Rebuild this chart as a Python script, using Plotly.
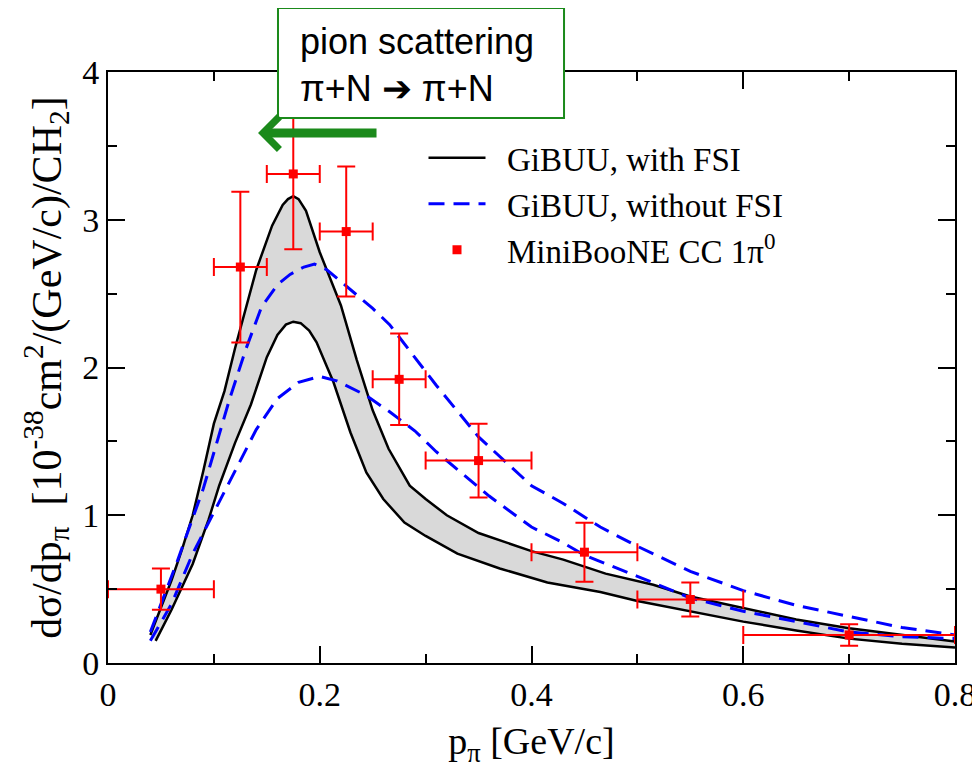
import plotly.graph_objects as go

# GiBUU with FSI: band edges
fsi_upper_x = [0.04, 0.05, 0.06, 0.07, 0.08, 0.09, 0.10, 0.11, 0.12, 0.14, 0.155, 0.165, 0.17,
               0.175, 0.18, 0.187, 0.20, 0.22, 0.235, 0.25, 0.265, 0.285, 0.30, 0.32, 0.35, 0.40,
               0.43, 0.47, 0.515, 0.55, 0.60, 0.65, 0.70, 0.75, 0.80]
fsi_upper_y = [0.19, 0.37, 0.56, 0.77, 1.00, 1.30, 1.62, 1.84, 2.13, 2.66, 2.96, 3.10, 3.14,
               3.16, 3.14, 3.06, 2.78, 2.42, 2.05, 1.71, 1.45, 1.20, 1.11, 1.00, 0.88, 0.757,
               0.70, 0.605, 0.53, 0.45, 0.37, 0.295, 0.235, 0.19, 0.145]
fsi_lower_x = [0.045, 0.06, 0.08, 0.095, 0.105, 0.12, 0.135, 0.15, 0.16, 0.168, 0.175, 0.182,
               0.19, 0.197, 0.213, 0.229, 0.244, 0.26, 0.28, 0.30, 0.33, 0.37, 0.415, 0.465,
               0.50, 0.55, 0.60, 0.65, 0.70, 0.75, 0.80]
fsi_lower_y = [0.15, 0.36, 0.67, 0.97, 1.20, 1.49, 1.75, 2.07, 2.22, 2.29, 2.31, 2.30,
               2.25, 2.17, 1.90, 1.56, 1.29, 1.11, 0.95, 0.86, 0.74, 0.64, 0.545, 0.48,
               0.42, 0.35, 0.28, 0.22, 0.165, 0.13, 0.105]

# GiBUU without FSI
nofsi_upper_x = [0.04, 0.065, 0.09, 0.115, 0.13, 0.145, 0.16, 0.172, 0.185, 0.195, 0.207, 0.22,
                 0.235, 0.25, 0.266, 0.29, 0.31, 0.35, 0.40, 0.43, 0.465, 0.50, 0.55, 0.60,
                 0.65, 0.70, 0.75, 0.80]
nofsi_upper_y = [0.21, 0.68, 1.18, 1.79, 2.12, 2.41, 2.56, 2.63, 2.68, 2.70, 2.66, 2.58,
                 2.49, 2.40, 2.29, 2.07, 1.88, 1.53, 1.20, 1.08, 0.92, 0.79, 0.62, 0.49,
                 0.39, 0.315, 0.24, 0.19]
nofsi_lower_x = [0.04, 0.06, 0.08, 0.10, 0.12, 0.14, 0.16, 0.18, 0.20, 0.216, 0.244, 0.266,
                 0.29, 0.31, 0.36, 0.40, 0.427, 0.45, 0.50, 0.55, 0.60, 0.65, 0.70, 0.75, 0.80]
nofsi_lower_y = [0.15, 0.40, 0.74, 1.02, 1.30, 1.58, 1.79, 1.90, 1.94, 1.91, 1.81, 1.70,
                 1.57, 1.43, 1.13, 0.92, 0.825, 0.73, 0.587, 0.44, 0.35, 0.28, 0.21, 0.178, 0.165]

# MiniBooNE CC 1pi0 data
data_x = [0.05, 0.125, 0.175, 0.225, 0.275, 0.35, 0.45, 0.55, 0.70]
data_y = [0.50, 2.68, 3.31, 2.92, 1.92, 1.37, 0.75, 0.43, 0.19]
data_xerr = [0.05, 0.025, 0.025, 0.025, 0.025, 0.05, 0.05, 0.05, 0.10]
data_yerr = [0.14, 0.51, 0.51, 0.44, 0.31, 0.25, 0.20, 0.115, 0.073]

serif = "Liberation Serif"
green = "#1b8a1b"
dash = "16px,9px"
pad = "\u00a0\u00a0"  # gap between legend sample and label

fig = go.Figure()

# grey band between the two FSI curves
fig.add_trace(go.Scatter(
    x=fsi_upper_x + fsi_lower_x[::-1], y=fsi_upper_y + fsi_lower_y[::-1],
    fill="toself", fillcolor="#d9d9d9", mode="lines", line=dict(width=0),
    showlegend=False, hoverinfo="skip"))

fig.add_trace(go.Scatter(x=fsi_upper_x, y=fsi_upper_y, mode="lines",
                         name=pad + "GiBUU, with FSI",
                         line=dict(color="black", width=2.5)))
fig.add_trace(go.Scatter(x=fsi_lower_x, y=fsi_lower_y, mode="lines",
                         showlegend=False, line=dict(color="black", width=2.5)))

fig.add_trace(go.Scatter(x=nofsi_upper_x, y=nofsi_upper_y, mode="lines",
                         name=pad + "GiBUU, without FSI",
                         line=dict(color="#0000ff", width=3, dash=dash)))
fig.add_trace(go.Scatter(x=nofsi_lower_x, y=nofsi_lower_y, mode="lines",
                         showlegend=False,
                         line=dict(color="#0000ff", width=3, dash=dash)))

fig.add_trace(go.Scatter(
    x=data_x, y=data_y, mode="markers", name=pad + "MiniBooNE CC 1π<sup>0</sup>",
    marker=dict(symbol="square", size=9, color="#ff0000"),
    error_x=dict(type="data", array=data_xerr, color="#ff0000", thickness=2, width=9),
    error_y=dict(type="data", array=data_yerr, color="#ff0000", thickness=2, width=9)))

axis_common = dict(
    showgrid=False, zeroline=False, showline=True, linecolor="black", linewidth=2,
    mirror="ticks", ticks="inside", ticklen=17, tickwidth=2, tickcolor="black",
    automargin=False,
    tickfont=dict(family=serif, size=34, color="black"),
)

fig.update_xaxes(
    range=[0, 0.8], dtick=0.2, tick0=0,
    minor=dict(dtick=0.1, ticks="inside", ticklen=9, tickwidth=2, tickcolor="black"),
    title=dict(text="p<sub>π</sub> [GeV/c]", font=dict(family=serif, size=38, color="black"),
               standoff=16),
    **axis_common)
fig.update_yaxes(
    range=[0, 4], dtick=1, tick0=0,
    minor=dict(dtick=0.5, ticks="inside", ticklen=9, tickwidth=2, tickcolor="black"),
    title=dict(text="dσ/dp<sub>π</sub>  [10<sup>-38</sup>cm<sup>2</sup>/(GeV/c)/CH<sub>2</sub>]",
               font=dict(family=serif, size=42, color="black"), standoff=8),
    **axis_common)

# the page body has an 8px margin, so the margins are shifted to compensate
fig.update_layout(
    width=980, height=768,
    margin=dict(l=100, r=33, t=64, b=113),
    plot_bgcolor="white", paper_bgcolor="white",
    legend=dict(x=0.3725, y=0.902, xanchor="left", yanchor="top",
                bgcolor="rgba(0,0,0,0)", itemwidth=57, tracegroupgap=0,
                font=dict(family=serif, size=33, color="black")),
)

# text box above the peak
fig.add_shape(type="rect", xref="paper", yref="paper",
              x0=0.2007, x1=0.5384, y0=0.9222, y1=1.1083,
              line=dict(color=green, width=2), fillcolor="white", layer="above")
fig.add_annotation(xref="paper", yref="paper", x=0.2243, y=1.012,
                   xanchor="left", yanchor="middle", align="left", showarrow=False,
                   text="pion scattering<br>π+N ➔ π+N",
                   font=dict(family="Liberation Sans", size=36, color="black"))
fig.add_annotation(x=0.1417, y=3.587, xref="x", yref="y", text="", showarrow=True,
                   ax=120, ay=0, arrowcolor=green, arrowwidth=9, arrowhead=4, arrowsize=0.7)

fig.write_html("out.html")
